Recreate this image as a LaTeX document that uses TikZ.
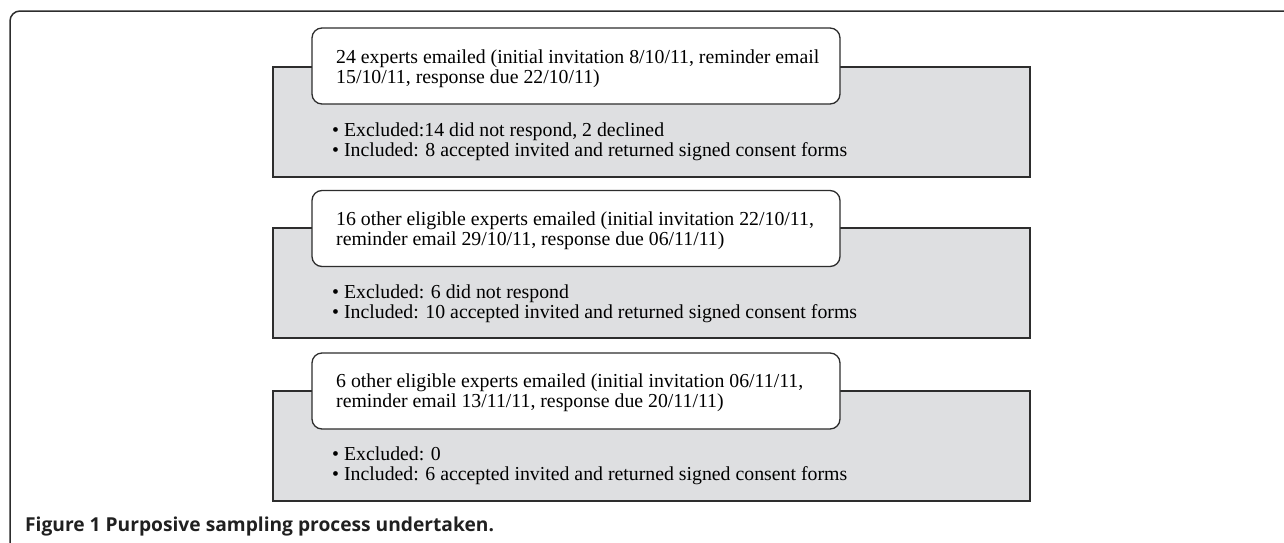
\documentclass[tikz,border=0pt]{standalone}
\usepackage{fontspec}
\setmainfont{Liberation Serif}
\newfontfamily\captionfont{Open Sans}
\usetikzlibrary{shapes}
\definecolor{panelgray}{RGB}{222,223,225}
\definecolor{edgegray}{RGB}{45,45,45}

\begin{document}
\begin{tikzpicture}[
  panel/.style={draw=edgegray,line width=1.3bp,fill=panelgray,minimum width=757bp,minimum height=110bp,inner sep=0pt},
  invite/.style={draw=edgegray,line width=1.3bp,fill=white,rounded corners=10bp,minimum width=528bp,minimum height=76bp,inner sep=0pt},
  invitetext/.style={anchor=west,inner sep=0pt,align=left,font=\fontsize{19.8bp}{19.5bp}\selectfont},
  outcome/.style={anchor=west,inner sep=0pt,align=left,font=\fontsize{19.8bp}{20bp}\selectfont}]
\useasboundingbox (0bp,0bp) rectangle (1284bp,-543bp);

% frame
\draw[edgegray,line width=1.5bp,rounded corners=10bp] (10bp,-543bp) -- (10bp,-11bp) -- (1284bp,-11bp);

\node (G1) at (651.5bp,-122bp)[panel] {};
\node (W1) at (576bp,-66bp)[invite] {};
\node (T1) at (336bp,-68.5bp)[invitetext] {24 experts emailed (initial invitation 8/10/11, reminder email\\15/10/11, response due 22/10/11)};
\node (B1) at (332bp,-142bp)[outcome] {\textbullet\ Excluded:14 did not respond, 2 declined\\\textbullet\ Included: 8 accepted invited and returned signed consent forms};

\node (G2) at (651.5bp,-283bp)[panel] {};
\node (W2) at (576bp,-228.5bp)[invite] {};
\node (T2) at (336bp,-230.5bp)[invitetext] {16 other eligible experts emailed (initial invitation 22/10/11,\\reminder email 29/10/11, response due 06/11/11)};
\node (B2) at (332bp,-304bp)[outcome] {\textbullet\ Excluded: 6 did not respond\\\textbullet\ Included: 10 accepted invited and returned signed consent forms};

\node (G3) at (651.5bp,-446bp)[panel] {};
\node (W3) at (576bp,-391bp)[invite] {};
\node (T3) at (336bp,-392.5bp)[invitetext] {6 other eligible experts emailed (initial invitation 06/11/11,\\reminder email 13/11/11, response due 20/11/11)};
\node (B3) at (332bp,-466bp)[outcome] {\textbullet\ Excluded: 0\\\textbullet\ Included: 6 accepted invited and returned signed consent forms};

\node (cap) at (25bp,-531bp)[anchor=base west,inner sep=0pt,font=\captionfont\bfseries\fontsize{19.2bp}{20bp}\selectfont,text=edgegray!70!black] {Figure 1 Purposive sampling process undertaken.};
\end{tikzpicture}
\end{document}
